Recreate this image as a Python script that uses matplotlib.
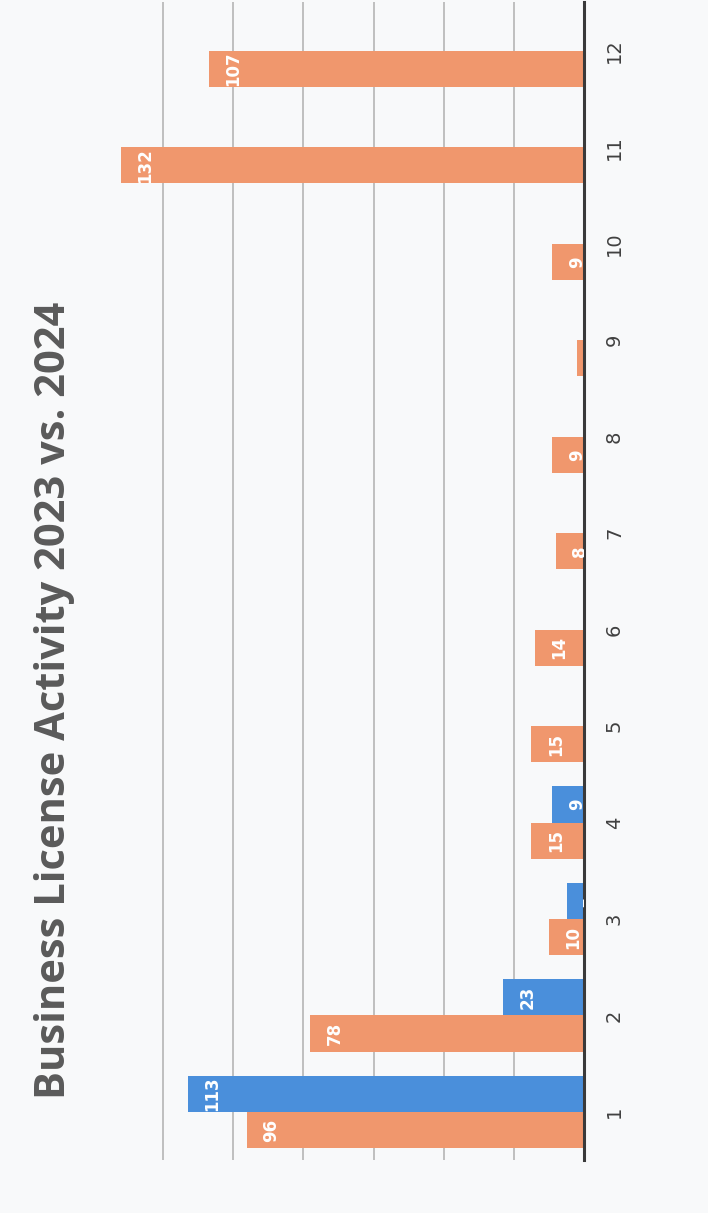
import matplotlib.pyplot as plt
from matplotlib.patches import Rectangle
import numpy as np

# months on the category axis
months = ["1", "2", "3", "4", "5", "6", "7", "8", "9", "10", "11", "12"]
# 2023 series (orange) and 2024 series (blue)
vals_2023 = [96, 78, 10, 15, 15, 14, 8, 9, 2, 9, 132, 107]
vals_2024 = [113, 23, 5, 9, 0, 0, 0, 0, 0, 0, 0, 0]
grid_vals = [20, 40, 60, 80, 100, 120]

orange = "#F0976D"
blue = "#4A8FDB"

fig = plt.figure(figsize=(7.14, 12.2), dpi=100)
fig.patch.set_facecolor("#f8f9fa")
# white scan edges at the bottom and right
fig.add_artist(Rectangle((0, 0), 1, 0.006, transform=fig.transFigure,
                         facecolor="white", edgecolor="none", zorder=0))
fig.add_artist(Rectangle((0.992, 0), 0.008, 1, transform=fig.transFigure,
                         facecolor="white", edgecolor="none", zorder=0))

ax = fig.add_axes([0.130, 0.049, 0.688, 0.949])
ax.set_facecolor("none")

y = np.arange(1, len(months) + 1)
w = 0.375
ax.barh(y - w / 2, vals_2023, height=w, color=orange, zorder=2)
ax.barh(y + w / 2, vals_2024, height=w, color=blue, zorder=2)

for yy, v in zip(y - w / 2, vals_2023):
    if v > 0:
        ax.annotate(str(v), (v, yy), xytext=(11, 0), textcoords="offset points",
                    rotation=90, ha="left", va="center", color="white",
                    fontsize=12, fontweight="bold", zorder=3, clip_on=True)
for yy, v in zip(y + w / 2, vals_2024):
    if v > 0:
        ax.annotate(str(v), (v, yy), xytext=(11, 0), textcoords="offset points",
                    rotation=90, ha="left", va="center", color="white",
                    fontsize=12, fontweight="bold", zorder=3, clip_on=True)

for g in grid_vals:
    ax.axvline(g, color="#b5b5b5", lw=1.2, zorder=1)

ax.set_xlim(140, 0)
ax.set_ylim(0.5, 12.5)
ax.set_xticks([])
ax.yaxis.tick_right()
ax.set_yticks(y)
ax.set_yticklabels(months, rotation=90, va="center", fontsize=14, color="#404040")
ax.tick_params(axis="y", length=0, pad=15)

for s in ["top", "bottom", "left"]:
    ax.spines[s].set_visible(False)
ax.spines["right"].set_color("#3a3a3a")
ax.spines["right"].set_linewidth(2.2)

fig.text(0.077, 0.426, "Business License Activity 2023 vs. 2024", rotation=90,
         ha="center", va="center", fontsize=30, fontweight="bold",
         color="#5a5a5a", family="Open Sans")

fig.savefig("out.png", dpi=100, facecolor=fig.get_facecolor())
